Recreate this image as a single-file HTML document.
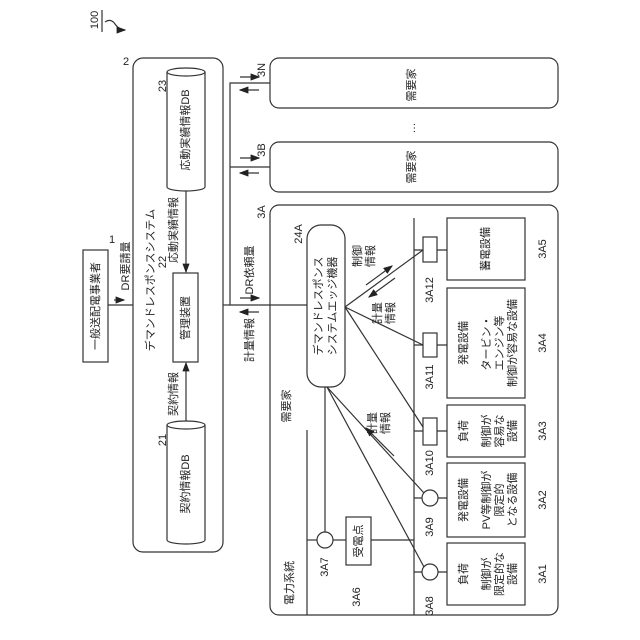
<!DOCTYPE html>
<html><head><meta charset="utf-8"><style>
html,body{margin:0;padding:0;background:#fff}
svg{display:block}
text{font-family:"Liberation Sans","Noto Sans CJK JP",sans-serif;fill:#222;font-size:11px;dominant-baseline:central}
</style></head><body>
<svg width="640" height="640" viewBox="0 0 640 640" xmlns="http://www.w3.org/2000/svg">
<defs><marker id="a" markerWidth="8" markerHeight="6" refX="7" refY="3" orient="auto"><path d="M0,0 L8,3 L0,6 z" fill="#222"/></marker></defs>
<g stroke="#333" stroke-width="1.2" fill="none">
<line x1="102" y1="10" x2="102" y2="32"/>
<path d="M105,22 q6,-4 10,2 t10,6" marker-end="url(#a)"/>
<rect x="83" y="250" width="25" height="112"/>
<line x1="108" y1="305" x2="133" y2="305"/>
<line x1="114" y1="300" x2="124" y2="300" marker-end="url(#a)"/>
<rect x="133" y="58" width="90" height="494" rx="10"/>
<path d="M167,72 v115 M205,72 v115"/>
<ellipse cx="186" cy="72" rx="19" ry="4"/>
<path d="M167,187 a19,4 0 0 0 38,0"/>
<path d="M167,425 v115 M205,425 v115"/>
<ellipse cx="186" cy="425" rx="19" ry="4"/>
<path d="M167,540 a19,4 0 0 0 38,0"/>
<rect x="173" y="273" width="25" height="89"/>
<line x1="186" y1="191" x2="186" y2="272" marker-end="url(#a)"/>
<line x1="186" y1="421" x2="186" y2="363" marker-end="url(#a)"/>
<polyline points="270,83 230,83 230,305 307,305"/>
<line x1="223" y1="305" x2="230" y2="305"/>
<line x1="230" y1="167" x2="270" y2="167"/>
<rect x="270" y="58" width="288" height="50" rx="9"/>
<rect x="270" y="142" width="288" height="50" rx="9"/>
<rect x="270" y="205" width="288" height="410" rx="9"/>
<line x1="240" y1="77" x2="259" y2="77" marker-end="url(#a)"/>
<line x1="259" y1="90" x2="240" y2="90" marker-end="url(#a)"/>
<line x1="240" y1="158" x2="259" y2="158" marker-end="url(#a)"/>
<line x1="259" y1="173" x2="240" y2="173" marker-end="url(#a)"/>
<line x1="240" y1="298" x2="259" y2="298" marker-end="url(#a)"/>
<line x1="259" y1="312" x2="240" y2="312" marker-end="url(#a)"/>
<rect x="307" y="225" width="38" height="162" rx="14"/>
<line x1="414" y1="218" x2="414" y2="615"/>
<line x1="307" y1="430" x2="307" y2="615"/>
<line x1="307" y1="540" x2="317" y2="540"/>
<circle cx="325" cy="540" r="8"/>
<line x1="333" y1="540" x2="346" y2="540"/>
<rect x="346" y="517" width="25" height="48"/>
<line x1="371" y1="540" x2="414" y2="540"/>
<line x1="325" y1="387" x2="325" y2="532"/>
<line x1="414" y1="572" x2="447" y2="572"/><circle cx="430" cy="572" r="8" fill="#fff"/>
<line x1="414" y1="498" x2="447" y2="498"/><circle cx="430" cy="498" r="8" fill="#fff"/>
<line x1="414" y1="431" x2="447" y2="431"/><rect x="423" y="418" width="14" height="27" fill="#fff"/>
<line x1="414" y1="345" x2="447" y2="345"/><rect x="423" y="333" width="14" height="24" fill="#fff"/>
<line x1="414" y1="250" x2="447" y2="250"/><rect x="423" y="237" width="14" height="25" fill="#fff"/>
<rect x="447" y="543" width="78" height="62"/>
<rect x="447" y="463" width="78" height="74"/>
<rect x="447" y="405" width="78" height="52"/>
<rect x="447" y="288" width="78" height="110"/>
<rect x="447" y="218" width="78" height="62"/>
<line x1="327" y1="387" x2="424" y2="567"/>
<line x1="327" y1="387" x2="424" y2="493"/>
<line x1="345" y1="307" x2="423" y2="427"/>
<line x1="345" y1="307" x2="423" y2="345"/>
<line x1="345" y1="307" x2="423" y2="250"/>
<line x1="366" y1="285" x2="392" y2="266" marker-end="url(#a)"/>
<line x1="395" y1="278" x2="369" y2="297" marker-end="url(#a)"/>
<line x1="394" y1="456" x2="366" y2="428" marker-end="url(#a)"/>
</g>
<g text-anchor="middle">
<text transform="translate(95,20) rotate(-90)" font-size="13">100</text>
<text transform="translate(96,306) rotate(-90)" font-size="12">一般送配電事業者</text>
<text x="112" y="240">1</text>
<text transform="translate(126,266) rotate(-90)">DR要請量</text>
<text x="126" y="62" font-size="12">2</text>
<text transform="translate(151,280) rotate(-90)" font-size="12">デマンドレスポンスシステム</text>
<text transform="translate(186,130) rotate(-90)">応動実績情報DB</text>
<text transform="translate(186,484) rotate(-90)">契約情報DB</text>
<text transform="translate(163,86) rotate(-90)" font-size="12">23</text>
<text transform="translate(163,440) rotate(-90)" font-size="12">21</text>
<text transform="translate(163,262) rotate(-90)" font-size="12">22</text>
<text transform="translate(186,318) rotate(-90)">管理装置</text>
<text transform="translate(174,230) rotate(-90)">応動実績情報</text>
<text transform="translate(174,394) rotate(-90)">契約情報</text>
<text transform="translate(250,270) rotate(-90)">DR依頼量</text>
<text transform="translate(250,340) rotate(-90)">計量情報</text>
<text transform="translate(262,70) rotate(-90)">3N</text>
<text transform="translate(262,150) rotate(-90)">3B</text>
<text transform="translate(262,212) rotate(-90)">3A</text>
<text transform="translate(412,85) rotate(-90)">需要家</text>
<text transform="translate(412,128) rotate(-90)">…</text>
<text transform="translate(412,167) rotate(-90)">需要家</text>
<text transform="translate(299,234) rotate(-90)" font-size="12">24A</text>
<text transform="translate(319,306) rotate(-90)">デマンドレスポンス</text>
<text transform="translate(333,306) rotate(-90)">システムエッジ機器</text>
<text transform="translate(287,406) rotate(-90)">需要家</text>
<text transform="translate(290,583) rotate(-90)">電力系統</text>
<text transform="translate(359,541) rotate(-90)">受電点</text>
<text transform="translate(358,256) rotate(-90)">制御</text>
<text transform="translate(371,256) rotate(-90)">情報</text>
<text transform="translate(378,313) rotate(-90)">計量</text>
<text transform="translate(391,313) rotate(-90)">情報</text>
<text transform="translate(373,423) rotate(-90)">計量</text>
<text transform="translate(386,423) rotate(-90)">情報</text>
<text transform="translate(325,567) rotate(-90)">3A7</text>
<text transform="translate(357,597) rotate(-90)">3A6</text>
<text transform="translate(430,606) rotate(-90)">3A8</text>
<text transform="translate(430,527) rotate(-90)">3A9</text>
<text transform="translate(430,463) rotate(-90)">3A10</text>
<text transform="translate(430,377) rotate(-90)">3A11</text>
<text transform="translate(430,290) rotate(-90)">3A12</text>
<text transform="translate(543,574) rotate(-90)">3A1</text>
<text transform="translate(543,500) rotate(-90)">3A2</text>
<text transform="translate(543,431) rotate(-90)">3A3</text>
<text transform="translate(543,343) rotate(-90)">3A4</text>
<text transform="translate(543,249) rotate(-90)">3A5</text>
<text transform="translate(464,574) rotate(-90)">負荷</text>
<text transform="translate(487,574) rotate(-90)">制御が</text>
<text transform="translate(500,574) rotate(-90)">限定的な</text>
<text transform="translate(513,574) rotate(-90)">設備</text>
<text transform="translate(464,500) rotate(-90)">発電設備</text>
<text transform="translate(487,500) rotate(-90)">PV等制御が</text>
<text transform="translate(500,500) rotate(-90)">限定的</text>
<text transform="translate(513,500) rotate(-90)">となる設備</text>
<text transform="translate(464,431) rotate(-90)">負荷</text>
<text transform="translate(487,431) rotate(-90)">制御が</text>
<text transform="translate(500,431) rotate(-90)">容易な</text>
<text transform="translate(513,431) rotate(-90)">設備</text>
<text transform="translate(464,343) rotate(-90)">発電設備</text>
<text transform="translate(487,343) rotate(-90)">タービン・</text>
<text transform="translate(500,343) rotate(-90)">エンジン等</text>
<text transform="translate(513,343) rotate(-90)">制御が容易な設備</text>
<text transform="translate(486,249) rotate(-90)">蓄電設備</text>
</g>
</svg>
</body></html>
